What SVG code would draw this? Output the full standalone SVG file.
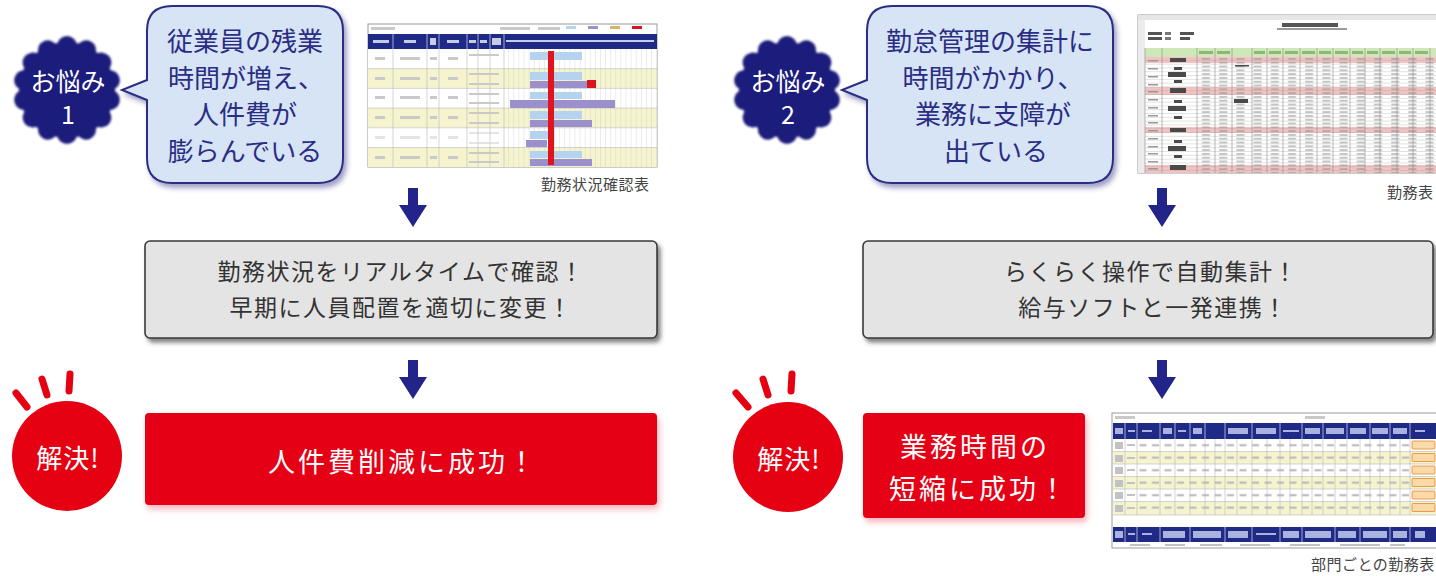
<svg xmlns="http://www.w3.org/2000/svg" xmlns:xlink="http://www.w3.org/1999/xlink" width="1436" height="576" viewBox="0 0 1436 576">
<style>
text { font-family: "Noto Sans CJK JP", "Noto Sans", sans-serif; }
.bub { font-size: 26px; fill: #2b2d84; text-anchor: middle; }
.badge { font-size: 25px; fill: #ffffff; text-anchor: middle; }
.gray { font-size: 23px; fill: #333333; text-anchor: middle; letter-spacing: 1.5px; }
.red { font-size: 27px; fill: #ffffff; text-anchor: middle; letter-spacing: 3px; }
.sol { font-size: 26px; fill: #ffffff; text-anchor: middle; letter-spacing: 1px; }
.cap { font-size: 15px; fill: #444444; letter-spacing: 0.5px; }
.bubble { fill: #d6e4f5; stroke: #2c2e83; stroke-width: 2; filter: url(#bshadow); }
.graybox { fill: #e4e4e4; stroke: #3a3a3a; stroke-width: 1.6; filter: url(#gshadow); }
.redbox { fill: #e50012; filter: url(#rshadow); }
.navy { fill: #1d1f7b; }
.ray { stroke: #e50012; stroke-width: 7; stroke-linecap: round; fill: none; }
.arrow { fill: #22248a; }
.sheet { fill: #ffffff; stroke: #9a9a9a; stroke-width: 1; }
.ln { stroke: #b8b8b8; stroke-width: 0.6; }
.wl { stroke: #ffffff; stroke-width: 0.6; }
.ph { fill: #c9c9c9; }
.btn { fill: #fbd9a8; stroke: #e08a2a; stroke-width: 0.8; }
</style>
<defs>
  <filter id="bshadow" x="-10%" y="-10%" width="125%" height="125%">
    <feDropShadow dx="3" dy="4" stdDeviation="2.5" flood-color="#2c2e83" flood-opacity="0.45"/>
  </filter>
  <filter id="gshadow" x="-5%" y="-10%" width="112%" height="130%">
    <feDropShadow dx="3" dy="4" stdDeviation="2" flood-color="#333333" flood-opacity="0.6"/>
  </filter>
  <filter id="rshadow" x="-5%" y="-10%" width="112%" height="130%">
    <feDropShadow dx="2" dy="4" stdDeviation="3" flood-color="#e50012" flood-opacity="0.3"/>
  </filter>
  <filter id="soft" x="-10%" y="-10%" width="120%" height="120%">
    <feGaussianBlur stdDeviation="0.9"/>
  </filter>
  <circle id="bump" cx="0" cy="-44" r="10"/>
  <g id="scallop">
    <circle cx="0" cy="0" r="48"/>
    <use xlink:href="#bump"/>
    <use xlink:href="#bump" transform="rotate(25.71)"/>
    <use xlink:href="#bump" transform="rotate(51.43)"/>
    <use xlink:href="#bump" transform="rotate(77.14)"/>
    <use xlink:href="#bump" transform="rotate(102.86)"/>
    <use xlink:href="#bump" transform="rotate(128.57)"/>
    <use xlink:href="#bump" transform="rotate(154.29)"/>
    <use xlink:href="#bump" transform="rotate(180)"/>
    <use xlink:href="#bump" transform="rotate(205.71)"/>
    <use xlink:href="#bump" transform="rotate(231.43)"/>
    <use xlink:href="#bump" transform="rotate(257.14)"/>
    <use xlink:href="#bump" transform="rotate(282.86)"/>
    <use xlink:href="#bump" transform="rotate(308.57)"/>
    <use xlink:href="#bump" transform="rotate(334.29)"/>
  </g>
  <pattern id="vgrid1" x="504" y="0" width="5.1" height="10" patternUnits="userSpaceOnUse">
    <line x1="5" y1="0" x2="5" y2="10" stroke="#bdbdbd" stroke-width="0.5"/>
  </pattern>
  <pattern id="hgrid2" x="0" y="57" width="10" height="3.8" patternUnits="userSpaceOnUse">
    <line x1="0" y1="3.7" x2="10" y2="3.7" stroke="#9a9a9a" stroke-width="0.5"/>
  </pattern>
  <pattern id="data2" x="1197" y="57" width="17.2" height="3.8" patternUnits="userSpaceOnUse">
    <rect x="5" y="1.2" width="8" height="1.4" fill="#8c8c8c"/>
  </pattern>
  <pattern id="data3" x="1137" y="439" width="12.5" height="12.5" patternUnits="userSpaceOnUse">
    <rect x="2.5" y="5.2" width="7" height="2" fill="#b5b5b5"/>
  </pattern>
</defs>

<rect width="1436" height="576" fill="#ffffff"/>

<!-- ===== Left column ===== -->
<g id="worry1-badge">
  <use xlink:href="#scallop" class="navy" transform="translate(67,90)" filter="url(#soft)"/>
  <text class="badge" x="68" y="91">お悩み</text>
  <text class="badge" x="68" y="124">1</text>
</g>

<g id="worry1-bubble">
  <path class="bubble" d="M172,6 H318 Q343,6 343,31 V158 Q343,183 318,183 H172 Q147,183 147,158 V100 L122,90 L147,80 V31 Q147,6 172,6 Z"/>
  <text class="bub" x="245" y="51">従業員の残業</text>
  <text class="bub" x="246" y="88">時間が増え、</text>
  <text class="bub" x="245" y="124">人件費が</text>
  <text class="bub" x="245" y="161">膨らんでいる</text>
</g>

<g id="sheet1">
  <rect class="sheet" x="368" y="24" width="289" height="143"/>
  <rect class="ph" x="371" y="27" width="24" height="3"/>
  <rect class="ph" x="500" y="27" width="30" height="3"/>
  <rect class="ph" x="538" y="27" width="22" height="3"/>
  <rect x="566" y="26" width="10" height="3" fill="#b5d3ee"/>
  <rect x="588" y="26" width="10" height="3" fill="#9b8fcc"/>
  <rect x="610" y="26" width="10" height="3" fill="#d9b26a"/>
  <rect x="632" y="26" width="10" height="3" fill="#d9151e"/>
  <rect x="368" y="34" width="289" height="15" fill="#1e2a86"/>
  <rect x="368" y="49" width="289" height="19.7" fill="#ffffff"/>
  <rect x="368" y="68.7" width="289" height="19.7" fill="#f6f4cf"/>
  <rect x="368" y="88.4" width="289" height="19.7" fill="#ffffff"/>
  <rect x="368" y="108.1" width="289" height="19.7" fill="#f6f4cf"/>
  <rect x="368" y="127.8" width="289" height="19.7" fill="#ffffff"/>
  <rect x="368" y="147.5" width="289" height="19.5" fill="#f6f4cf"/>
  <rect x="504" y="49" width="153" height="118" fill="url(#vgrid1)"/>
  <g class="ln">
    <line x1="393" y1="49" x2="393" y2="167"/>
    <line x1="427" y1="49" x2="427" y2="167"/>
    <line x1="439" y1="49" x2="439" y2="167"/>
    <line x1="467" y1="49" x2="467" y2="167"/>
    <line x1="478" y1="49" x2="478" y2="167"/>
    <line x1="490" y1="49" x2="490" y2="167"/>
    <line x1="504" y1="49" x2="504" y2="167"/>
    <line x1="368" y1="68.7" x2="657" y2="68.7"/>
    <line x1="368" y1="88.4" x2="657" y2="88.4"/>
    <line x1="368" y1="108.1" x2="657" y2="108.1"/>
    <line x1="368" y1="127.8" x2="657" y2="127.8"/>
    <line x1="368" y1="147.5" x2="657" y2="147.5"/>
  </g>
  <g class="wl">
    <line x1="393" y1="34" x2="393" y2="49"/>
    <line x1="427" y1="34" x2="427" y2="49"/>
    <line x1="439" y1="34" x2="439" y2="49"/>
    <line x1="467" y1="34" x2="467" y2="49"/>
    <line x1="478" y1="34" x2="478" y2="49"/>
    <line x1="490" y1="34" x2="490" y2="49"/>
    <line x1="504" y1="34" x2="504" y2="49"/>
  </g>
  <g fill="#c6cbe6">
    <rect x="373" y="40" width="16" height="3"/>
    <rect x="404" y="40" width="12" height="3"/>
    <rect x="430" y="38" width="6" height="7"/>
    <rect x="447" y="40" width="12" height="3"/>
    <rect x="469" y="40" width="7" height="3"/>
    <rect x="480" y="40" width="7" height="3"/>
    <rect x="492" y="38" width="9" height="7"/>
    <rect x="506" y="40" width="148" height="2"/>
  </g>
  <g class="ph">
    <rect x="375" y="57" width="10" height="3"/><rect x="400" y="57" width="20" height="3"/><rect x="430" y="57" width="7" height="3"/><rect x="448" y="57" width="10" height="3"/><rect x="469" y="54" width="30" height="2"/>
    <rect x="375" y="77" width="10" height="3"/><rect x="400" y="77" width="20" height="3"/><rect x="430" y="77" width="7" height="3"/><rect x="448" y="77" width="10" height="3"/><rect x="469" y="73" width="30" height="2"/><rect x="469" y="83" width="30" height="2"/>
    <rect x="375" y="96" width="10" height="3"/><rect x="400" y="96" width="20" height="3"/><rect x="430" y="96" width="7" height="3"/><rect x="448" y="96" width="10" height="3"/><rect x="469" y="93" width="30" height="2"/><rect x="469" y="102" width="30" height="2"/>
    <rect x="375" y="116" width="10" height="3"/><rect x="400" y="116" width="20" height="3"/><rect x="430" y="116" width="7" height="3"/><rect x="448" y="116" width="10" height="3"/><rect x="469" y="112" width="30" height="2"/><rect x="469" y="122" width="30" height="2"/>
    <rect x="375" y="136" width="10" height="3" opacity="0.5"/><rect x="400" y="136" width="20" height="3" opacity="0.5"/><rect x="430" y="136" width="7" height="3" opacity="0.5"/><rect x="448" y="136" width="10" height="3" opacity="0.5"/><rect x="469" y="132" width="30" height="2" opacity="0.5"/><rect x="469" y="142" width="30" height="2" opacity="0.5"/>
    <rect x="375" y="156" width="10" height="3"/><rect x="400" y="156" width="20" height="3"/><rect x="430" y="156" width="7" height="3"/><rect x="448" y="156" width="10" height="3"/><rect x="469" y="152" width="30" height="2"/><rect x="469" y="161" width="30" height="2"/>
  </g>
  <g fill="#b5d3ee">
    <rect x="530" y="52" width="52" height="8"/>
    <rect x="530" y="72" width="52" height="8"/>
    <rect x="530" y="92" width="52" height="7"/>
    <rect x="530" y="111" width="52" height="8"/>
    <rect x="530" y="131" width="18" height="8"/>
    <rect x="530" y="151" width="52" height="7"/>
  </g>
  <g fill="#9b8fcc">
    <rect x="530" y="81" width="57" height="7"/>
    <rect x="510" y="100" width="105" height="8"/>
    <rect x="530" y="120" width="62" height="7"/>
    <rect x="526" y="140" width="21" height="7"/>
    <rect x="530" y="159" width="62" height="7"/>
  </g>
  <rect x="587" y="80" width="9" height="8" fill="#d9151e"/>
  <rect x="548" y="51" width="6" height="114" fill="#e0141d"/>
</g>
<text class="cap" x="541" y="190">勤務状況確認表</text>

<g id="solution1-box">
  <rect class="graybox" x="145" y="241" width="512" height="97" rx="5"/>
  <text class="gray" x="401" y="280">勤務状況をリアルタイムで確認！</text>
  <text class="gray" x="401" y="316">早期に人員配置を適切に変更！</text>
</g>

<g id="result1-badge">
  <line class="ray" x1="16" y1="393" x2="27" y2="407"/>
  <line class="ray" x1="42" y1="379" x2="47" y2="395"/>
  <line class="ray" x1="70" y1="374" x2="69" y2="391"/>
  <circle cx="67" cy="456" r="55" fill="#e50012"/>
  <text class="sol" x="68" y="468">解決!</text>
</g>

<g id="result1-box">
  <rect class="redbox" x="145" y="413" width="512" height="92" rx="4"/>
  <text class="red" x="403" y="472">人件費削減に成功！</text>
</g>

<!-- ===== Right column ===== -->
<g id="worry2-badge">
  <use xlink:href="#scallop" class="navy" transform="translate(787,90)" filter="url(#soft)"/>
  <text class="badge" x="788" y="91">お悩み</text>
  <text class="badge" x="788" y="124">2</text>
</g>

<g id="worry2-bubble">
  <path class="bubble" d="M892,6 H1088 Q1113,6 1113,31 V158 Q1113,183 1088,183 H892 Q867,183 867,158 V100 L842,90 L867,80 V31 Q867,6 892,6 Z"/>
  <text class="bub" x="990" y="51">勤怠管理の集計に</text>
  <text class="bub" x="993" y="88">時間がかかり、</text>
  <text class="bub" x="993" y="124">業務に支障が</text>
  <text class="bub" x="996" y="161">出ている</text>
</g>

<g id="sheet2">
  <rect class="sheet" x="1138" y="15" width="305" height="158"/>
  <rect x="1138" y="15" width="298" height="5" fill="#e6e6e6"/>
  <rect x="1138" y="20" width="7" height="153" fill="#ececec"/>
  <rect x="1282" y="23" width="56" height="4" fill="#555555"/>
  <rect x="1277" y="28" width="70" height="2" fill="#9a9a9a"/>
  <rect x="1148" y="32" width="14" height="3" fill="#555555"/><rect x="1165" y="32" width="6" height="3" fill="#777777"/><rect x="1180" y="32" width="14" height="3" fill="#555555"/>
  <rect x="1148" y="37" width="14" height="3" fill="#555555"/><rect x="1165" y="37" width="6" height="3" fill="#777777"/><rect x="1180" y="37" width="10" height="3" fill="#555555"/>
  <rect x="1145" y="48" width="291" height="9" fill="#cfe8b8"/>
  <rect x="1145" y="57" width="291" height="6" fill="#f3c3c3"/>
  <rect x="1145" y="87" width="291" height="8" fill="#f3c3c3"/>
  <rect x="1145" y="127" width="291" height="6" fill="#f3c3c3"/>
  <rect x="1145" y="165" width="291" height="8" fill="#f3c3c3"/>
  <rect x="1145" y="57" width="291" height="116" fill="url(#hgrid2)"/>
  <rect x="1197" y="57" width="239" height="116" fill="url(#data2)" opacity="0.7"/>
  <g stroke="#8a8a8a" stroke-width="0.6">
    <line x1="1145" y1="48" x2="1145" y2="173"/>
    <line x1="1162" y1="48" x2="1162" y2="173"/>
    <line x1="1197" y1="48" x2="1197" y2="173"/>
    <line x1="1215" y1="48" x2="1215" y2="173"/>
    <line x1="1232" y1="48" x2="1232" y2="173"/>
    <line x1="1252" y1="48" x2="1252" y2="173"/>
    <line x1="1267" y1="48" x2="1267" y2="173"/>
    <line x1="1283" y1="48" x2="1283" y2="173"/>
    <line x1="1300" y1="48" x2="1300" y2="173"/>
    <line x1="1317" y1="48" x2="1317" y2="173"/>
    <line x1="1333" y1="48" x2="1333" y2="173"/>
    <line x1="1350" y1="48" x2="1350" y2="173"/>
    <line x1="1365" y1="48" x2="1365" y2="173"/>
    <line x1="1380" y1="48" x2="1380" y2="173"/>
    <line x1="1397" y1="48" x2="1397" y2="173"/>
    <line x1="1413" y1="48" x2="1413" y2="173"/>
    <line x1="1430" y1="48" x2="1430" y2="173"/>
  </g>
  <g fill="#4a4a4a">
    <rect x="1170" y="58" width="16" height="4"/>
    <rect x="1174" y="67" width="8" height="3"/>
    <rect x="1168" y="72" width="18" height="5"/>
    <rect x="1174" y="80" width="8" height="3"/>
    <rect x="1170" y="88" width="16" height="5"/>
    <rect x="1174" y="100" width="8" height="3"/>
    <rect x="1168" y="106" width="18" height="5"/>
    <rect x="1174" y="116" width="8" height="3"/>
    <rect x="1170" y="128" width="16" height="4"/>
    <rect x="1174" y="140" width="8" height="3"/>
    <rect x="1168" y="146" width="18" height="5"/>
    <rect x="1174" y="155" width="8" height="3"/>
    <rect x="1170" y="165" width="16" height="5"/>
    <rect x="1235" y="65" width="14" height="1.5"/>
    <rect x="1234" y="99" width="14" height="4"/>
  </g>
  <g fill="#9a9a9a">
    <rect x="1148" y="60" width="10" height="1.5"/><rect x="1148" y="68" width="10" height="1.5"/><rect x="1148" y="76" width="10" height="1.5"/><rect x="1148" y="84" width="10" height="1.5"/><rect x="1148" y="91" width="10" height="1.5"/><rect x="1148" y="99" width="10" height="1.5"/><rect x="1148" y="107" width="10" height="1.5"/><rect x="1148" y="115" width="10" height="1.5"/><rect x="1148" y="122" width="10" height="1.5"/><rect x="1148" y="130" width="10" height="1.5"/><rect x="1148" y="138" width="10" height="1.5"/><rect x="1148" y="146" width="10" height="1.5"/><rect x="1148" y="153" width="10" height="1.5"/><rect x="1148" y="161" width="10" height="1.5"/><rect x="1148" y="168" width="10" height="1.5"/>
  </g>
  <g fill="#8fb57a">
    <rect x="1199" y="51" width="14" height="3"/><rect x="1217" y="51" width="13" height="3"/><rect x="1254" y="51" width="11" height="3"/><rect x="1269" y="51" width="12" height="3"/><rect x="1285" y="51" width="13" height="3"/><rect x="1302" y="51" width="13" height="3"/><rect x="1319" y="51" width="12" height="3"/><rect x="1335" y="51" width="13" height="3"/><rect x="1352" y="51" width="11" height="3"/><rect x="1367" y="51" width="11" height="3"/><rect x="1382" y="51" width="13" height="3"/><rect x="1399" y="51" width="12" height="3"/><rect x="1415" y="51" width="13" height="3"/>
  </g>
</g>
<text class="cap" x="1387" y="198">勤務表</text>

<g id="solution2-box">
  <rect class="graybox" x="863" y="241" width="570" height="97" rx="5"/>
  <text class="gray" x="1151" y="280">らくらく操作で自動集計！</text>
  <text class="gray" x="1153" y="316">給与ソフトと一発連携！</text>
</g>

<g id="result2-badge">
  <line class="ray" x1="736" y1="393" x2="748" y2="407"/>
  <line class="ray" x1="763" y1="379" x2="768" y2="395"/>
  <line class="ray" x1="792" y1="374" x2="791" y2="391"/>
  <circle cx="788" cy="457" r="55" fill="#e50012"/>
  <text class="sol" x="789" y="469">解決!</text>
</g>

<g id="result2-box">
  <rect class="redbox" x="863" y="413" width="222" height="105" rx="4"/>
  <text class="red" x="975" y="457">業務時間の</text>
  <text class="red" x="979" y="499">短縮に成功！</text>
</g>

<g id="sheet3">
  <rect class="sheet" x="1112" y="413" width="330" height="135"/>
  <rect class="ph" x="1115" y="416" width="20" height="3"/>
  <rect class="ph" x="1305" y="416" width="20" height="3"/>
  <rect x="1113" y="423" width="323" height="16" fill="#1e2a86"/>
  <rect x="1113" y="439" width="323" height="12.5" fill="#ffffff"/>
  <rect x="1113" y="451.5" width="323" height="12.5" fill="#f6f4cf"/>
  <rect x="1113" y="464" width="323" height="12.5" fill="#ffffff"/>
  <rect x="1113" y="476.5" width="323" height="12.5" fill="#f6f4cf"/>
  <rect x="1113" y="489" width="323" height="12.5" fill="#ffffff"/>
  <rect x="1113" y="501.5" width="323" height="13.5" fill="#f6f4cf"/>
  <rect x="1137" y="439" width="273" height="75" fill="url(#data3)"/>
  <rect x="1113" y="527" width="323" height="15" fill="#1e2a86"/>
  <g class="ln">
    <line x1="1113" y1="451.5" x2="1436" y2="451.5"/>
    <line x1="1113" y1="464" x2="1436" y2="464"/>
    <line x1="1113" y1="476.5" x2="1436" y2="476.5"/>
    <line x1="1113" y1="489" x2="1436" y2="489"/>
    <line x1="1113" y1="501.5" x2="1436" y2="501.5"/>
    <line x1="1113" y1="515" x2="1436" y2="515"/>
    <line x1="1125" y1="439" x2="1125" y2="515"/><line x1="1137" y1="439" x2="1137" y2="515"/><line x1="1160" y1="439" x2="1160" y2="515"/><line x1="1175" y1="439" x2="1175" y2="515"/><line x1="1190" y1="439" x2="1190" y2="515"/><line x1="1205" y1="439" x2="1205" y2="515"/><line x1="1215" y1="439" x2="1215" y2="515"/><line x1="1225" y1="439" x2="1225" y2="515"/><line x1="1237" y1="439" x2="1237" y2="515"/><line x1="1252" y1="439" x2="1252" y2="515"/><line x1="1267" y1="439" x2="1267" y2="515"/><line x1="1280" y1="439" x2="1280" y2="515"/><line x1="1290" y1="439" x2="1290" y2="515"/><line x1="1302" y1="439" x2="1302" y2="515"/><line x1="1312" y1="439" x2="1312" y2="515"/><line x1="1323" y1="439" x2="1323" y2="515"/><line x1="1335" y1="439" x2="1335" y2="515"/><line x1="1347" y1="439" x2="1347" y2="515"/><line x1="1360" y1="439" x2="1360" y2="515"/><line x1="1370" y1="439" x2="1370" y2="515"/><line x1="1380" y1="439" x2="1380" y2="515"/><line x1="1390" y1="439" x2="1390" y2="515"/><line x1="1400" y1="439" x2="1400" y2="515"/><line x1="1410" y1="439" x2="1410" y2="515"/>
  </g>
  <g class="wl">
    <line x1="1125" y1="423" x2="1125" y2="439"/><line x1="1137" y1="423" x2="1137" y2="439"/><line x1="1160" y1="423" x2="1160" y2="439"/><line x1="1175" y1="423" x2="1175" y2="439"/><line x1="1190" y1="423" x2="1190" y2="439"/><line x1="1205" y1="423" x2="1205" y2="439"/><line x1="1225" y1="423" x2="1225" y2="439"/><line x1="1252" y1="423" x2="1252" y2="439"/><line x1="1280" y1="423" x2="1280" y2="439"/><line x1="1302" y1="423" x2="1302" y2="439"/><line x1="1323" y1="423" x2="1323" y2="439"/><line x1="1347" y1="423" x2="1347" y2="439"/><line x1="1370" y1="423" x2="1370" y2="439"/><line x1="1390" y1="423" x2="1390" y2="439"/><line x1="1410" y1="423" x2="1410" y2="439"/>
    <line x1="1125" y1="527" x2="1125" y2="542"/><line x1="1137" y1="527" x2="1137" y2="542"/><line x1="1160" y1="527" x2="1160" y2="542"/><line x1="1190" y1="527" x2="1190" y2="542"/><line x1="1225" y1="527" x2="1225" y2="542"/><line x1="1252" y1="527" x2="1252" y2="542"/><line x1="1280" y1="527" x2="1280" y2="542"/><line x1="1302" y1="527" x2="1302" y2="542"/><line x1="1335" y1="527" x2="1335" y2="542"/><line x1="1360" y1="527" x2="1360" y2="542"/><line x1="1390" y1="527" x2="1390" y2="542"/><line x1="1410" y1="527" x2="1410" y2="542"/>
  </g>
  <g fill="#aab3e0">
    <rect x="1115" y="428" width="8" height="6"/><rect x="1128" y="430" width="7" height="2"/><rect x="1142" y="430" width="10" height="2"/><rect x="1163" y="428" width="9" height="6"/><rect x="1178" y="430" width="8" height="2"/><rect x="1193" y="428" width="9" height="6"/><rect x="1228" y="428" width="20" height="6"/><rect x="1256" y="428" width="20" height="6"/><rect x="1283" y="430" width="16" height="2"/><rect x="1305" y="428" width="15" height="6"/><rect x="1326" y="428" width="18" height="6"/><rect x="1350" y="428" width="16" height="6"/><rect x="1372" y="428" width="16" height="6"/><rect x="1393" y="428" width="14" height="6"/><rect x="1415" y="430" width="10" height="2"/>
    <rect x="1115" y="531" width="8" height="7"/><rect x="1128" y="533" width="7" height="2"/><rect x="1142" y="533" width="10" height="2"/><rect x="1163" y="531" width="22" height="7"/><rect x="1193" y="531" width="28" height="7"/><rect x="1228" y="531" width="20" height="7"/><rect x="1256" y="533" width="20" height="2"/><rect x="1283" y="531" width="16" height="7"/><rect x="1305" y="531" width="26" height="7"/><rect x="1338" y="531" width="18" height="7"/><rect x="1363" y="531" width="24" height="7"/><rect x="1393" y="531" width="14" height="7"/><rect x="1415" y="531" width="10" height="7"/>
  </g>
  <g fill="#c2c2c2">
    <rect x="1115" y="442" width="8" height="7"/><rect x="1127" y="444" width="8" height="2"/>
    <rect x="1115" y="455" width="8" height="7"/><rect x="1127" y="457" width="8" height="2"/>
    <rect x="1115" y="467" width="8" height="7"/><rect x="1127" y="469" width="8" height="2"/>
    <rect x="1115" y="480" width="8" height="7"/><rect x="1127" y="482" width="8" height="2"/>
    <rect x="1115" y="492" width="8" height="7"/><rect x="1127" y="494" width="8" height="2"/>
    <rect x="1115" y="505" width="8" height="7"/><rect x="1127" y="507" width="8" height="2"/>
    <rect x="1130" y="544" width="20" height="2"/><rect x="1165" y="544" width="20" height="2"/><rect x="1200" y="544" width="22" height="2"/><rect x="1240" y="544" width="30" height="2"/><rect x="1290" y="544" width="30" height="2"/><rect x="1340" y="544" width="40" height="2"/><rect x="1390" y="544" width="15" height="2"/>
  </g>
  <g class="btn">
    <rect x="1412" y="441" width="23" height="8" rx="1"/>
    <rect x="1412" y="453.5" width="23" height="8" rx="1"/>
    <rect x="1412" y="466" width="23" height="8" rx="1"/>
    <rect x="1412" y="478.5" width="23" height="8" rx="1"/>
    <rect x="1412" y="491" width="23" height="8" rx="1"/>
    <rect x="1412" y="503.5" width="23" height="8" rx="1"/>
  </g>
</g>
<text class="cap" x="1311" y="570">部門ごとの勤務表</text>

<g id="connectors">
  <polygon class="arrow" points="408,188 418,188 418,205 427,205 413,227 399,205 408,205"/>
  <polygon class="arrow" points="408,360 418,360 418,377 427,377 413,399 399,377 408,377"/>
  <polygon class="arrow" points="1157,188 1167,188 1167,205 1176,205 1162,227 1148,205 1157,205"/>
  <polygon class="arrow" points="1157,360 1167,360 1167,377 1176,377 1162,399 1148,377 1157,377"/>
</g>
</svg>
